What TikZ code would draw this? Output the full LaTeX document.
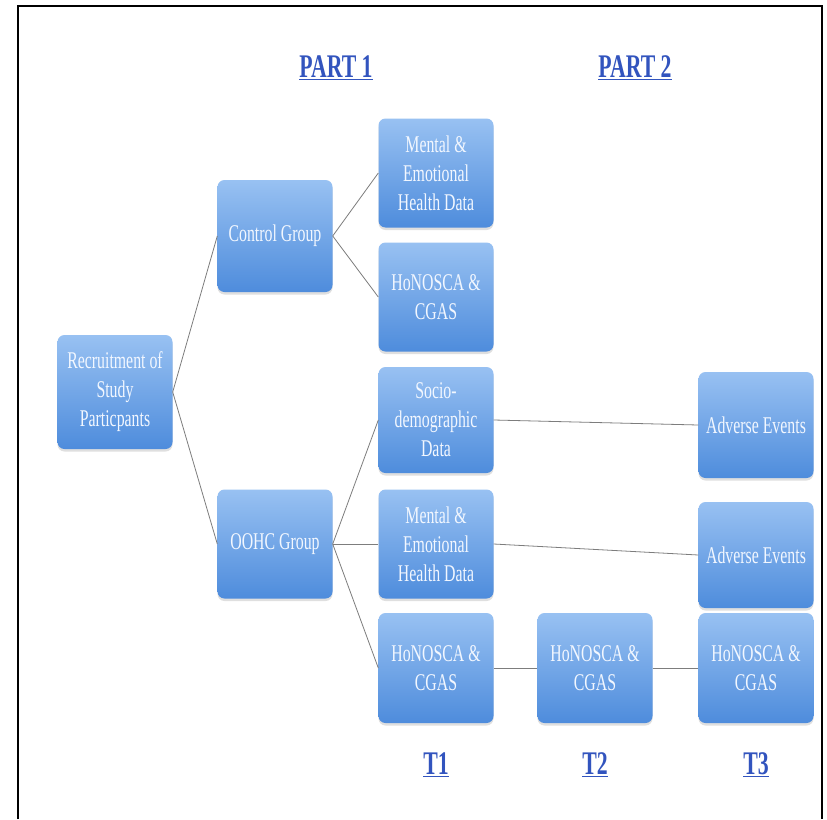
\documentclass[tikz,border=0pt]{standalone}
\usepackage{fontspec}
\setmainfont[FakeStretch=0.66]{Liberation Serif}
\usetikzlibrary{shadows}
\definecolor{boxtop}{RGB}{152,193,242}
\definecolor{boxbot}{RGB}{78,140,220}
\definecolor{boxtext}{RGB}{242,247,255}
\definecolor{titleblue}{RGB}{50,84,190}
\definecolor{linkgray}{RGB}{125,125,125}
\begin{document}
\begin{tikzpicture}[x=1pt,y=-1pt,
  sbox/.style={rectangle, rounded corners=7pt, minimum width=115pt, minimum height=109pt,
    inner sep=2pt, top color=boxtop, bottom color=boxbot, draw=none,
    text=boxtext, align=center, font=\fontsize{24}{29}\selectfont,
    drop shadow={opacity=0.25, shadow xshift=0pt, shadow yshift=-2.5pt}},
  ttl/.style={text=titleblue, font=\fontsize{33}{36}\selectfont\bfseries, inner sep=0pt},
  link/.style={draw=linkgray, line width=0.8pt}]
\useasboundingbox (0,0) rectangle (827,819);
\fill[white] (0,0) rectangle (827,819);
\draw[line width=1.3pt] (18,819) -- (18,6) -- (822,6) -- (822,819);

\node[ttl] (p1) at (336,68) {\underline{PART 1}};
\node[ttl] (p2) at (635,68) {\underline{PART 2}};
\node[ttl] (t1) at (436,765) {\underline{T1}};
\node[ttl] (t2) at (595,765) {\underline{T2}};
\node[ttl] (t3) at (756,765) {\underline{T3}};

\node[sbox, minimum height=114pt] (rec) at (115,392) {Recruitment of\\Study\\Particpants};
\node[sbox, minimum height=112pt] (ctrl) at (275,236) {Control Group};
\node[sbox] (m1) at (436,173) {Mental \&\\Emotional\\Health Data};
\node[sbox] (h1) at (436,297) {HoNOSCA \&\\CGAS};
\node[sbox, minimum height=106pt] (soc) at (436,420) {Socio-\\demographic\\Data};
\node[sbox] (oohc) at (275,544) {OOHC Group};
\node[sbox] (m2) at (436,544) {Mental \&\\Emotional\\Health Data};
\node[sbox, minimum height=110pt] (ht1) at (436,668) {HoNOSCA \&\\CGAS};
\node[sbox, minimum height=110pt] (ht2) at (595,668) {HoNOSCA \&\\CGAS};
\node[sbox, minimum height=110pt] (ht3) at (756,668) {HoNOSCA \&\\CGAS};
\node[sbox, minimum height=106pt] (ae1) at (756,425) {Adverse Events};
\node[sbox, minimum height=106pt] (ae2) at (756,555) {Adverse Events};

\draw[link] (rec.east) -- (ctrl.west);
\draw[link] (rec.east) -- (oohc.west);
\draw[link] (ctrl.east) -- (m1.west);
\draw[link] (ctrl.east) -- (h1.west);
\draw[link] (oohc.east) -- (soc.west);
\draw[link] (oohc.east) -- (m2.west);
\draw[link] (oohc.east) -- (ht1.west);
\draw[link] (soc.east) -- (ae1.west);
\draw[link] (m2.east) -- (ae2.west);
\draw[link] (ht1.east) -- (ht2.west);
\draw[link] (ht2.east) -- (ht3.west);
\end{tikzpicture}
\end{document}
